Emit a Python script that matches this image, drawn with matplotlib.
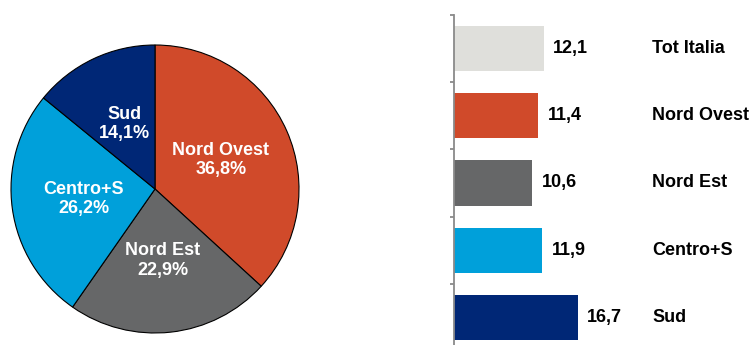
import numpy as np
import matplotlib.pyplot as plt

plt.rcParams['font.family'] = ['Liberation Sans', 'DejaVu Sans']

# pie: share by area
pie_labels = ['Nord Ovest', 'Nord Est', 'Centro+S', 'Sud']
pie_values = [36.8, 22.9, 26.2, 14.1]
pie_colors = ['#D04A2A', '#666768', '#00A0DA', '#002776']

# bars: index by area
bar_labels = ['Tot Italia', 'Nord Ovest', 'Nord Est', 'Centro+S', 'Sud']
bar_values = [12.1, 11.4, 10.6, 11.9, 16.7]
bar_colors = ['#DFDFDB', '#D04A2A', '#666768', '#00A0DA', '#002776']

fig = plt.figure(figsize=(7.54, 3.45), dpi=100)

# --- pie ---
W, H = 754, 345
cx, cy, r = 155, 189, 144
ax1 = fig.add_axes([(cx - r) / W, (H - cy - r) / H, 2 * r / W, 2 * r / H])
wedges, _ = ax1.pie(pie_values, colors=pie_colors, startangle=90, counterclock=False,
                    wedgeprops=dict(edgecolor='black', linewidth=0.8))
ax1.set_xlim(-1, 1)
ax1.set_ylim(-1, 1)
ax1.set_aspect('equal')
for w, lab, v in zip(wedges, pie_labels, pie_values):
    ang = np.deg2rad((w.theta1 + w.theta2) / 2)
    ax1.text(0.5 * np.cos(ang), 0.5 * np.sin(ang),
             f'{lab}\n{v:.1f}%'.replace('.', ','),
             ha='center', va='center', color='white', fontsize=13, fontweight='bold')

# --- bars ---
ax2 = fig.add_axes([454 / W, -6 / H, 300 / W, 336 / H])
y = np.arange(len(bar_values))
ax2.barh(y, bar_values, height=0.67, color=bar_colors)
ax2.set_xlim(0, 300 / 7.4)
ax2.set_ylim(len(bar_values) - 0.5, -0.5)
for yi, v, lab in zip(y, bar_values, bar_labels):
    ax2.annotate(f'{v:.1f}'.replace('.', ','), (v, yi), xytext=(7, 0),
                 textcoords='offset points', ha='left', va='center',
                 fontsize=13, fontweight='bold')
    ax2.text(0.66, yi, lab, transform=ax2.get_yaxis_transform(),
             ha='left', va='center', fontsize=13, fontweight='bold')
for s in ['top', 'right', 'bottom']:
    ax2.spines[s].set_visible(False)
ax2.spines['left'].set_color('#8A8A8A')
ax2.spines['left'].set_linewidth(1.3)
ax2.set_xticks([])
ax2.set_yticks(np.arange(-0.5, len(bar_values) + 0.5, 1))
ax2.set_yticklabels([])
ax2.tick_params(axis='y', length=3, width=1.3, color='#8A8A8A', direction='out')

fig.savefig('out.png', dpi=100)
